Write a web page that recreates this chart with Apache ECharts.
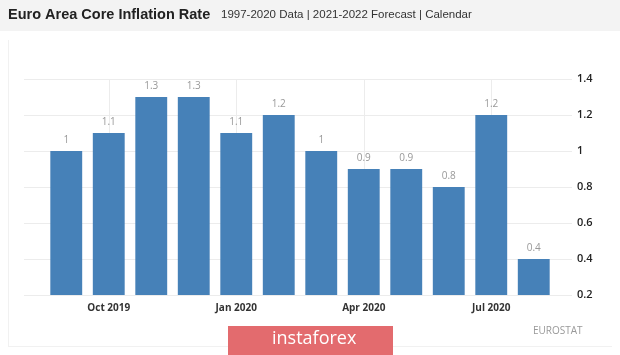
<!DOCTYPE html>
<html>
<head>
<meta charset="utf-8">
<script src="https://cdn.jsdelivr.net/npm/echarts@6/dist/echarts.min.js"></script>
<style>
html,body{margin:0;padding:0;background:#fff;}
#c{width:620px;height:355px;}
</style>
</head>
<body>
<div id="c"></div>
<script>
const categories = ['Sep 2019','Oct 2019','Nov 2019','Dec 2019','Jan 2020','Feb 2020','Mar 2020','Apr 2020','May 2020','Jun 2020','Jul 2020','Aug 2020'];
const values = [1, 1.1, 1.3, 1.3, 1.1, 1.2, 1, 0.9, 0.9, 0.8, 1.2, 0.4];
const labeledCategories = ['Oct 2019','Jan 2020','Apr 2020','Jul 2020'];
const yTicks = [0.2, 0.4, 0.6, 0.8, 1, 1.2, 1.4];

const chart = echarts.init(document.getElementById('c'), null, {renderer:'canvas'});
const showCat = (i, v) => labeledCategories.indexOf(categories[i]) >= 0;
const yMin = yTicks[0], yMax = yTicks[yTicks.length-1];

chart.setOption({
  animation:false,
  backgroundColor:'#ffffff',
  grid:[
    {left:45, right:65, top:79, bottom:60},
    {left:24, right:48, top:79, bottom:60}
  ],
  xAxis:[
    {type:'category', gridIndex:0, data:categories, boundaryGap:true,
     axisLine:{show:false}, axisTick:{show:false},
     axisLabel:{interval:showCat, color:'#333', fontSize:10, fontWeight:'bold', fontFamily:'Open Sans', margin:8},
     splitLine:{show:true, interval:showCat, alignWithLabel:true, lineStyle:{color:'#ececec', width:1}}
    },
    {type:'value', gridIndex:1, min:0, max:1, show:false}
  ],
  yAxis:[
    {type:'value', gridIndex:0, min:yMin, max:yMax, interval:0.2, show:false, splitLine:{show:false}},
    {type:'value', gridIndex:1, min:yMin, max:yMax, interval:0.2, position:'right',
     axisLine:{show:false}, axisTick:{show:false},
     axisLabel:{color:'#222', fontSize:11, fontFamily:'Open Sans', fontWeight:600, margin:5, align:'left',
       formatter:v => String(Math.round(v*10)/10)},
     splitLine:{show:true, lineStyle:{color:'#ececec', width:1}}
    }
  ],
  series:[
    {type:'bar', xAxisIndex:0, yAxisIndex:0, data:values, barCategoryGap:'25%',
     itemStyle:{color:'#4681b8'},
     label:{show:true, position:'top', distance:6, color:'#999', fontSize:10, fontFamily:'Open Sans'}
    }
  ],
  graphic:[
    {type:'rect', shape:{x:0, y:0, width:620, height:31}, style:{fill:'#f3f3f3'}, z:-1},
    {type:'text', left:8, top:7, style:{text:'Euro Area Core Inflation Rate', fill:'#222', font:'bold 14.5px "Liberation Sans", Arial, sans-serif'}},
    {type:'text', left:221, top:9, style:{text:'1997-2020 Data | 2021-2022 Forecast | Calendar', fill:'#333', font:'11.5px "Liberation Sans", Arial, sans-serif'}},
    {type:'rect', shape:{x:8, y:40, width:1, height:306}, style:{fill:'#f1f1f1'}},
    {type:'rect', shape:{x:8, y:346, width:604, height:1}, style:{fill:'#f1f1f1'}},
    {type:'text', left:533, top:326, style:{text:'EUROSTAT', fill:'#999', font:'10px "Open Sans", sans-serif'}},
    {type:'rect', shape:{x:228, y:326, width:165, height:29}, style:{fill:'#e36b6e'}},
    {type:'text', left:272, top:330, style:{text:'instaforex', fill:'#ffffff', font:'18px "Open Sans", sans-serif'}}
  ]
});
</script>
</body>
</html>
